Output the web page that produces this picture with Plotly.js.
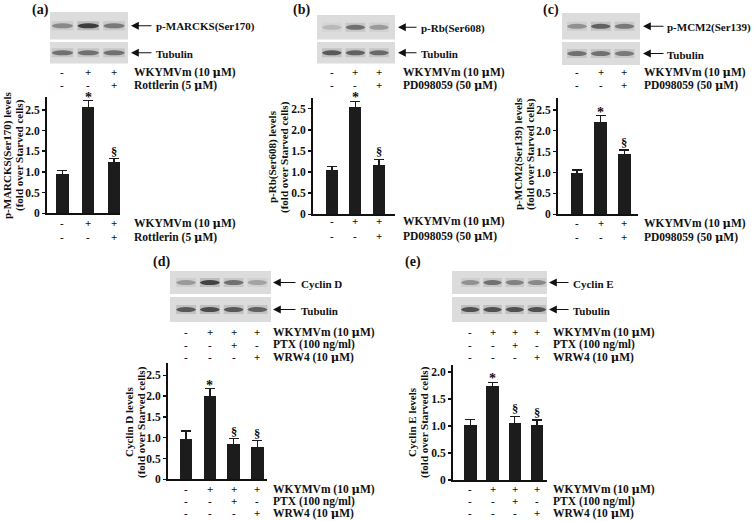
<!DOCTYPE html>
<html><head><meta charset="utf-8">
<script src="https://cdn.plot.ly/plotly-3.0.1.min.js"></script>
<style>html,body{margin:0;padding:0;background:#fff}#chart{width:754px;height:521px}</style>
</head><body><div id="chart"></div>
<script>
// ---------- DATA ----------
const catsA = [0, 1, 2];
const valsA = [0.96, 2.58, 1.23];
const errsA = [0.08, 0.14, 0.09];
const markA = ['', '*', '§'];
const rowA1 = ['-', '+', '+'];
const rowA2 = ['-', '-', '+'];
const bandA1 = [0.45, 0.95, 0.55];
const bandA2 = [0.6, 0.6, 0.6];

const catsB = [0, 1, 2];
const valsB = [1.05, 2.55, 1.17];
const errsB = [0.08, 0.12, 0.13];
const markB = ['', '*', '§'];
const rowB1 = ['-', '+', '+'];
const rowB2 = ['-', '-', '+'];
const bandB1 = [0.18, 0.6, 0.35];
const bandB2 = [0.75, 0.7, 0.65];

const catsC = [0, 1, 2];
const valsC = [0.99, 2.21, 1.45];
const errsC = [0.07, 0.15, 0.09];
const markC = ['', '*', '§'];
const rowC1 = ['-', '+', '+'];
const rowC2 = ['-', '-', '+'];
const bandC1 = [0.4, 0.7, 0.55];
const bandC2 = [0.6, 0.6, 0.55];

const catsD = [0, 1, 2, 3];
const valsD = [0.98, 2.01, 0.86, 0.77];
const errsD = [0.18, 0.17, 0.12, 0.16];
const markD = ['', '*', '§', '§'];
const rowD1 = ['-', '+', '+', '+'];
const rowD2 = ['-', '-', '+', '-'];
const rowD3 = ['-', '-', '-', '+'];
const bandD1 = [0.35, 0.9, 0.6, 0.3];
const bandD2 = [0.75, 0.85, 0.75, 0.7];

const catsE = [0, 1, 2, 3];
const valsE = [1.01, 1.75, 1.05, 1.01];
const errsE = [0.11, 0.06, 0.13, 0.10];
const markE = ['', '*', '§', '§'];
const rowE1 = ['-', '+', '+', '+'];
const rowE2 = ['-', '-', '+', '-'];
const rowE3 = ['-', '-', '-', '+'];
const bandE1 = [0.4, 0.6, 0.5, 0.45];
const bandE2 = [0.8, 0.8, 0.8, 0.8];

const tickVals = [0, 0.5, 1.0, 1.5, 2.0, 2.5];
const tickText = ['0', '0.5', '1.0', '1.5', '2.0', '2.5'];

// ---------- LAYOUT HELPERS ----------
const W = 754, H = 521;
const FF = '"Liberation Serif", "Times New Roman", serif';
const X = p => p / W;
const Y = p => 1 - p / H;

const panels = [
  {id:'a', cats:catsA, vals:valsA, errs:errsA, marks:markA,
   rows:[[rowA1,'WKYMVm (10 μM)'],[rowA2,'Rottlerin (5 μM)']],
   bands:[bandA1, bandA2], blotNames:['p-MARCKS(Ser170)','Tubulin'],
   ytitle:['p-MARCKS(Ser170) levels','(fold over Starved cells)'], ytx:[7,19], yty:155,
   px:[47,120], py:[97,213.3], xr:[-0.6,2.23], yr:[0,2.81], bw:0.47,
   label:[40,10], blotX:[50,128], blot1:[12,39.5], blot2:[42,63.5], arrowTip:131, arrowLen:22, textX:155,
   topRowsY:[71.5,85], botRowsY:[223,236.5], rowLabelX:133},
  {id:'b', cats:catsB, vals:valsB, errs:errsB, marks:markB,
   rows:[[rowB1,'WKYMVm (10 μM)'],[rowB2,'PD098059 (50 μM)']],
   bands:[bandB1, bandB2], blotNames:['p-Rb(Ser608)','Tubulin'],
   ytitle:['p-Rb(Ser608) levels','(fold over Starved cells)'], ytx:[273,285], yty:157,
   px:[313,395], py:[97.7,214.3], xr:[-0.8,2.68], yr:[0,2.76], bw:0.51,
   label:[301,10], blotX:[317,395], blot1:[15,39.5], blot2:[42,63.5], arrowTip:398, arrowLen:20, textX:420,
   topRowsY:[71.5,85], botRowsY:[221,235.5], rowLabelX:402},
  {id:'c', cats:catsC, vals:valsC, errs:errsC, marks:markC,
   rows:[[rowC1,'WKYMVm (10 μM)'],[rowC2,'PD098059 (50 μM)']],
   bands:[bandC1, bandC2], blotNames:['p-MCM2(Ser139)','Tubulin'],
   ytitle:['p-MCM2(Ser139) levels','(fold over Starved cells)'], ytx:[518,530], yty:154,
   px:[558,638], py:[97.7,214.3], xr:[-0.8,2.57], yr:[0,2.79], bw:0.53,
   label:[551,10], blotX:[562,640], blot1:[13,39.5], blot2:[42,65], arrowTip:643, arrowLen:22, textX:666},
  {id:'d', cats:catsD, vals:valsD, errs:errsD, marks:markD,
   rows:[[rowD1,'WKYMVm (10 μM)'],[rowD2,'PTX (100 ng/ml)'],[rowD3,'WRW4 (10 μM)']],
   bands:[bandD1, bandD2], blotNames:['Cyclin D','Tubulin'],
   ytitle:['Cyclin D levels','(fold over Starved cells)'], ytx:[129,141], yty:422,
   px:[168,266.7], py:[363.3,479.3], xr:[-0.76,3.39], yr:[0,2.79], bw:0.52,
   label:[161,262], blotX:[170,271], blot1:[271,294], blot2:[297,322], arrowTip:273, arrowLen:24, textX:300,
   topRowsY:[332,344.5,357], botRowsY:[489,501,513], rowLabelX:272},
  {id:'e', cats:catsE, vals:valsE, errs:errsE, marks:markE,
   rows:[[rowE1,'WKYMVm (10 μM)'],[rowE2,'PTX (100 ng/ml)'],[rowE3,'WRW4 (10 μM)']],
   bands:[bandE1, bandE2], blotNames:['Cyclin E','Tubulin'],
   ytitle:['Cyclin E levels','(fold over Starved cells)'], ytx:[412,424], yty:422,
   px:[453,546.7], py:[365,480], xr:[-0.78,3.44], yr:[0,2.13], bw:0.56,
   label:[413,262], blotX:[452,547], blot1:[271,294], blot2:[297,322], arrowTip:549, arrowLen:21, textX:572,
   topRowsY:[332,344.5,357], botRowsY:[489,501,513], rowLabelX:552}
];
panels[2].topRowsY = [71.5,85]; panels[2].botRowsY = [223,236.5]; panels[2].rowLabelX = 643;

const data = [];
const shapes = [];
const annotations = [];
const layout = {
  width: W, height: H, margin: {l:0, r:0, t:0, b:0},
  paper_bgcolor: '#fff', plot_bgcolor: 'rgba(0,0,0,0)',
  showlegend: false, bargap: 0,
  font: {family: FF, size: 11, color: '#111'},
  shapes: shapes, annotations: annotations
};

const bold = (t, size, extra) => Object.assign({font:{family:FF, size:size, color:'#111', weight:'bold'}, showarrow:false, borderpad:0, text:'<b>'+t+'</b>'}, extra);
const mu = s => s.replace('μ', '</b><span style="font-family:\'DejaVu Serif\'">μ</span><b>');

panels.forEach((p, k) => {
  const n = k === 0 ? '' : String(k + 1);
  const xa = 'x' + n, ya = 'y' + n;
  data.push({
    type: 'bar', x: p.cats, y: p.vals, xaxis: xa, yaxis: ya, width: p.bw,
    marker: {color: '#1c1c1c', line: {width: 0}},
    error_y: {type: 'data', array: p.errs, symmetric: true, color: '#1c1c1c', thickness: 1.5, width: 5},
    hoverinfo: 'skip'
  });
  layout['xaxis' + n] = {
    domain: [X(p.px[0]), X(p.px[1])], range: p.xr, anchor: ya,
    showline: true, linecolor: '#111', linewidth: 2, ticks: '', showticklabels: false,
    showgrid: false, zeroline: false, fixedrange: true
  };
  layout['yaxis' + n] = {
    domain: [Y(p.py[1]), Y(p.py[0])], range: p.yr, anchor: xa,
    showline: true, linecolor: '#111', linewidth: 2, ticks: 'outside', ticklen: 3, tickwidth: 1.5, tickcolor: '#111',
    tickvals: tickVals, ticktext: tickText,
    tickfont: {family: FF, size: 11.5, color: '#111', weight: 'bold'},
    showgrid: false, zeroline: false, fixedrange: true
  };
  // markers (* / §) above error bars
  p.cats.forEach((c, i) => {
    if (p.marks[i]) annotations.push(bold(p.marks[i], p.marks[i] === '*' ? 14 : 12.5,
      {xref: xa, yref: ya, x: c, y: p.vals[i] + p.errs[i], yanchor: 'bottom', xanchor: 'center', yshift: p.marks[i] === '*' ? -5 : -1}));
  });
  // y-axis title: two rotated lines
  p.ytitle.forEach((t, j) => {
    annotations.push(bold(t, 11, {xref:'paper', yref:'paper', x: X(p.ytx[j]), y: Y(p.yty), textangle: -90, xanchor:'center', yanchor:'middle'}));
  });
  // panel label
  annotations.push(bold('(' + p.id + ')', 14, {xref:'paper', yref:'paper', x: X(p.label[0]), y: Y(p.label[1]), xanchor:'center', yanchor:'middle'}));
  // +/- rows above plot (under blots) and below plot
  [p.topRowsY, p.botRowsY].forEach(rowsY => {
    p.rows.forEach((r, j) => {
      r[0].forEach((s, i) => {
        annotations.push(bold(s, 11, {xref: xa, yref: 'paper', x: p.cats[i], y: Y(rowsY[j]), xanchor: 'center', yanchor: 'middle'}));
      });
      annotations.push(bold(mu(r[1]), 11.5,
        {xref: 'paper', yref: 'paper', x: X(p.rowLabelX), y: Y(rowsY[j]), xanchor: 'left', yanchor: 'middle'}));
    });
  });
  // blots
  const colPx = i => p.px[0] + (p.cats[i] - p.xr[0]) / (p.xr[1] - p.xr[0]) * (p.px[1] - p.px[0]);
  const colW = (p.px[1] - p.px[0]) / (p.xr[1] - p.xr[0]);
  [p.blot1, p.blot2].forEach((b, j) => {
    shapes.push({type:'rect', xref:'paper', yref:'paper', x0: X(p.blotX[0]), x1: X(p.blotX[1]), y0: Y(b[1]), y1: Y(b[0]),
      fillcolor: '#dcdcdc', line: {width: 0}, layer: 'below'});
    const yc = (b[0] + b[1]) / 2;
    p.bands[j].forEach((v, i) => {
      const cx = colPx(i), hw = colW * 0.42;
      shapes.push({type:'rect', xref:'paper', yref:'paper', x0: X(cx - hw), x1: X(cx + hw), y0: Y(yc + 4.5), y1: Y(yc - 4.5),
        fillcolor: '#3a3a3a', opacity: v * 0.22, line: {width: 0}, layer: 'below'});
      shapes.push({type:'path', xref:'paper', yref:'paper',
        path: `M ${X(cx-hw)} ${Y(yc)} Q ${X(cx-hw+2)} ${Y(yc-2.6)} ${X(cx)} ${Y(yc-2.6)} Q ${X(cx+hw-2)} ${Y(yc-2.6)} ${X(cx+hw)} ${Y(yc)} Q ${X(cx+hw-2)} ${Y(yc+2.6)} ${X(cx)} ${Y(yc+2.6)} Q ${X(cx-hw+2)} ${Y(yc+2.6)} ${X(cx-hw)} ${Y(yc)} Z`,
        fillcolor: '#1e1e1e', opacity: v * 0.85, line: {width: 0}, layer: 'below'});
    });
    // arrow + name
    annotations.push({xref:'paper', yref:'paper', x: X(p.arrowTip), y: Y(yc), ax: p.arrowLen, ay: 0, axref:'pixel', ayref:'pixel',
      showarrow: true, arrowhead: 2, arrowsize: 1.3, arrowwidth: 1.2, arrowcolor: '#111', text: ''});
    annotations.push(bold(p.blotNames[j], 11, {xref:'paper', yref:'paper', x: X(p.textX), y: Y(yc + 1), xanchor:'left', yanchor:'middle'}));
  });
});

Plotly.newPlot('chart', data, layout, {staticPlot: true, displayModeBar: false});
</script>
</body></html>
